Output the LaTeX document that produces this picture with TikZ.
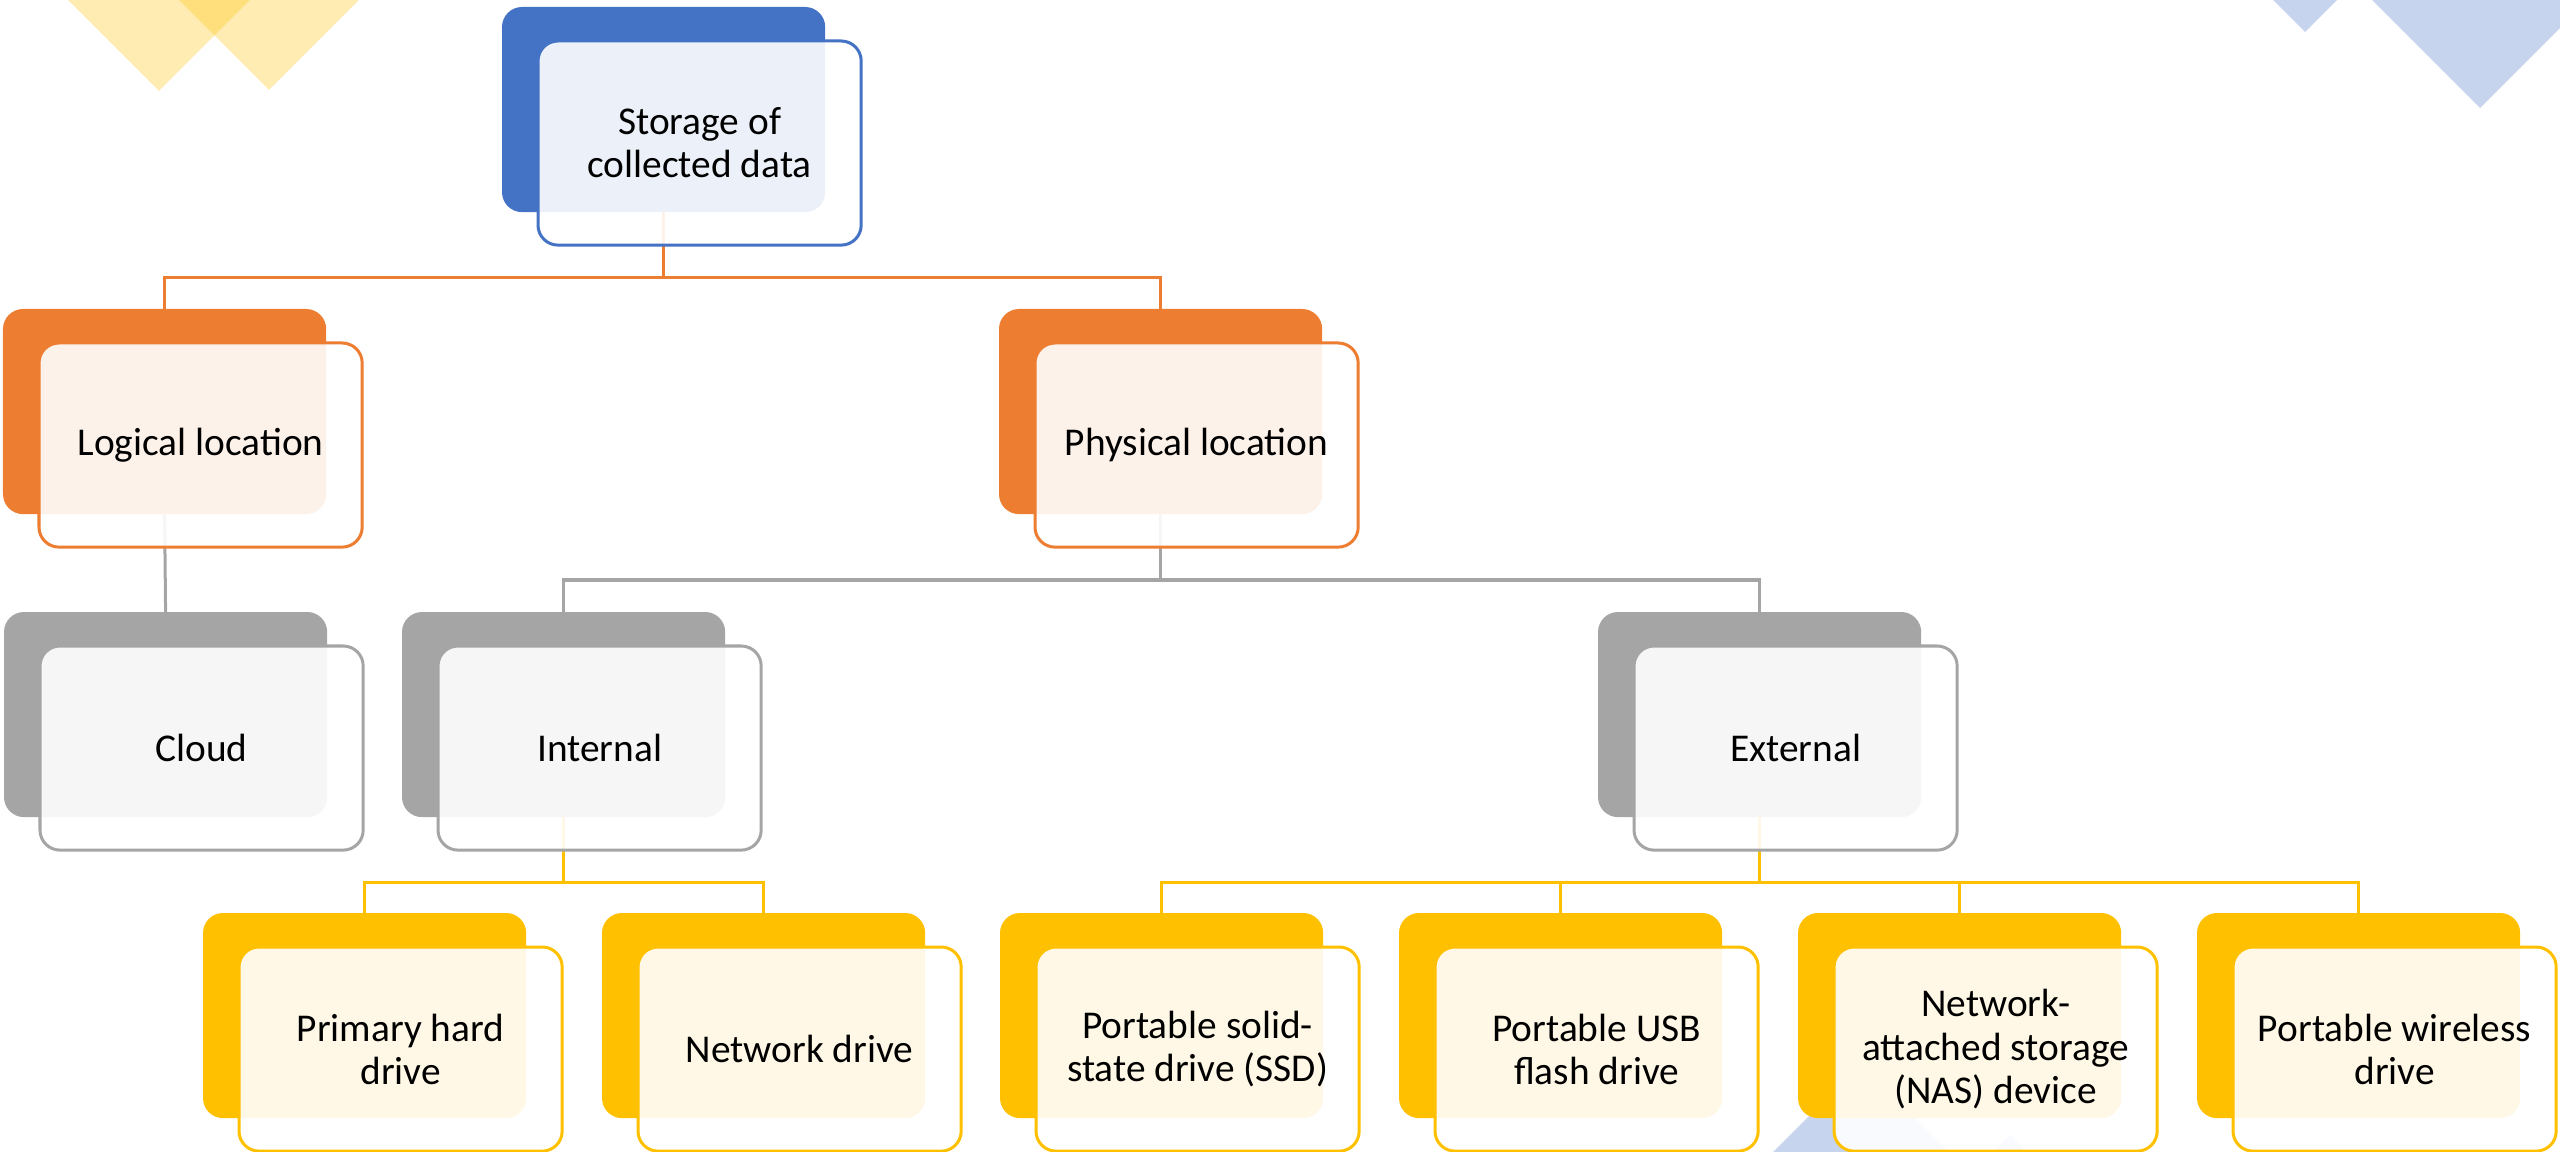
\documentclass[tikz,border=0pt]{standalone}
\usepackage{fontspec}
\setmainfont{Carlito}
\usetikzlibrary{calc}
\pgfdeclarelayer{deco}
\pgfdeclarelayer{bg}
\pgfsetlayers{deco,bg,main}
\definecolor{cblue}{HTML}{4472C4}
\definecolor{corange}{HTML}{ED7D31}
\definecolor{cgray}{HTML}{A5A5A5}
\definecolor{cgold}{HTML}{FFC000}
\begin{document}
\begin{tikzpicture}[x=0.01cm,y=-0.01cm,
  backbox/.style={rounded corners=0.2cm, minimum width=3.23cm, minimum height=2.05cm,
    inner sep=0pt, outer sep=0pt, anchor=north west},
  frontbox/.style={rounded corners=0.2cm, minimum width=3.23cm, minimum height=2.04cm,
    inner sep=0pt, outer sep=0pt, anchor=north west, fill=white, fill opacity=0.9,
    text opacity=1, line width=0.03cm, align=center, text=black,
    font=\fontsize{11.2}{12.25}\selectfont},
  conn/.style={line width=0.03cm},
  tri/.style={fill opacity=0.3}]
\useasboundingbox (0,0) rectangle (2560,1152);

% level 0
\node[backbox, fill=cblue] (storageB) at (502,7) {};
\node[frontbox, draw=cblue] (storage) at (538,41) {Storage of\\collected data};
% level 1
\node[backbox, fill=corange] (logicalB) at (3,309) {};
\node[frontbox, draw=corange] (logical) at (39,343) {Logical location};
\node[backbox, fill=corange] (physicalB) at (999,309) {};
\node[frontbox, draw=corange] (physical) at (1035,343) {Physical location};
% level 2
\node[backbox, fill=cgray] (cloudB) at (4,612) {};
\node[frontbox, draw=cgray] (cloud) at (40,646) {Cloud};
\node[backbox, fill=cgray] (internalB) at (402,612) {};
\node[frontbox, draw=cgray] (internal) at (438,646) {Internal};
\node[backbox, fill=cgray] (externalB) at (1598,612) {};
\node[frontbox, draw=cgray] (external) at (1634,646) {External};
% level 3
\node[backbox, fill=cgold] (primaryB) at (203,913) {};
\node[frontbox, draw=cgold] (primary) at (239,947) {Primary hard\\drive};
\node[backbox, fill=cgold] (netdriveB) at (602,913) {};
\node[frontbox, draw=cgold] (netdrive) at (638,947) {Network drive};
\node[backbox, fill=cgold] (ssdB) at (1000,913) {};
\node[frontbox, draw=cgold] (ssd) at (1036,947) {Portable solid-\\state drive (SSD)};
\node[backbox, fill=cgold] (usbB) at (1399,913) {};
\node[frontbox, draw=cgold] (usb) at (1435,947) {Portable USB\\flash drive};
\node[backbox, fill=cgold] (nasB) at (1798,913) {};
\node[frontbox, draw=cgold] (nas) at (1834,947) {Network-\\attached storage\\(NAS) device};
\node[backbox, fill=cgold] (wirelessB) at (2197,913) {};
\node[frontbox, draw=cgold] (wireless) at (2233,947) {Portable wireless\\drive};

\begin{pgfonlayer}{bg}
\coordinate (bar1) at (0,278);
\coordinate (bar2) at (0,580);
\coordinate (bar3) at (0,882);
\draw[conn, draw=corange] (storageB.south) -- (storageB.south |- bar1) -| (logicalB.north);
\draw[conn, draw=corange] (storageB.south |- bar1) -| (physicalB.north);
\draw[conn, draw=cgray] (logicalB.south) -- (cloudB.north);
\draw[conn, draw=cgray] (physicalB.south) -- (physicalB.south |- bar2) -| (internalB.north);
\draw[conn, draw=cgray] (physicalB.south |- bar2) -| (externalB.north);
\draw[conn, draw=cgold] (internalB.south) -- (internalB.south |- bar3) -| (primaryB.north);
\draw[conn, draw=cgold] (internalB.south |- bar3) -| (netdriveB.north);
\draw[conn, draw=cgold] (externalB.south) -- (externalB.south |- bar3) -| (ssdB.north);
\draw[conn, draw=cgold] (externalB.south |- bar3) -| (usbB.north);
\draw[conn, draw=cgold] (externalB.south |- bar3) -| (nasB.north);
\draw[conn, draw=cgold] (externalB.south |- bar3) -| (wirelessB.north);
\end{pgfonlayer}

\begin{pgfonlayer}{deco}
\begin{scope}
\clip (0,0) rectangle (2560,1152);
\fill[cgold, tri] (68,0) -- (250,0) -- (159,91) -- cycle;
\fill[cgold, tri] (179,0) -- (359,0) -- (269,90) -- cycle;
\fill[cblue, tri] (2273,0) -- (2337,0) -- (2305,32) -- cycle;
\fill[cblue, tri] (2372,0) -- (2588,0) -- (2480,108) -- cycle;
\fill[cblue, tri] (1773,1152) -- (1949,1152) -- (1861,1064) -- cycle;
\fill[cblue, tri] (1993,1152) -- (2027,1152) -- (2010,1135) -- cycle;
\end{scope}
\end{pgfonlayer}
\end{tikzpicture}
\end{document}
